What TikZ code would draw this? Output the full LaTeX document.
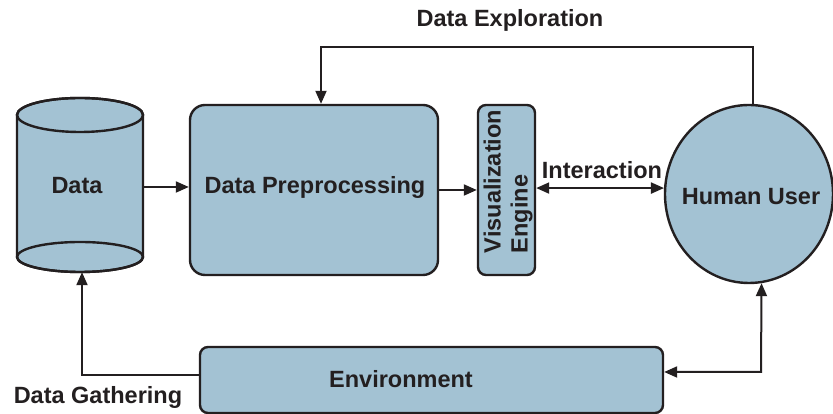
\documentclass[tikz,border=0pt]{standalone}
\usepackage{fontspec}
\setmainfont{Liberation Sans}
\usetikzlibrary{shapes.geometric,arrows.meta,calc}
\definecolor{boxfill}{HTML}{A3C2D3}
\definecolor{ink}{HTML}{231F20}
\begin{document}
\begin{tikzpicture}[x=1pt,y=1pt,
  box/.style={draw=ink,fill=boxfill,line width=2.4pt,inner sep=0pt},
  lbl/.style={text=ink,font=\fontsize{23.5}{26}\selectfont\bfseries,inner sep=0pt},
  conn/.style={draw=ink,line width=2pt},
  tip/.style={-{Triangle[length=13pt,width=11pt]}},
  tips/.style={{Triangle[length=13pt,width=11pt]}-{Triangle[length=13pt,width=11pt]}}]
\useasboundingbox (0,0) rectangle (833,414);
\fill[white] (0,0) rectangle (833,414);
% cylinder (Data)
\filldraw[draw=ink,fill=boxfill,line width=2.4pt]
  (17,299) -- (17,157) arc[start angle=180,end angle=360,x radius=63,y radius=15]
  -- (143,299) arc[start angle=0,end angle=180,x radius=63,y radius=17] -- cycle;
\draw[draw=ink,line width=2.4pt] (80,299) ellipse[x radius=63,y radius=17];
\draw[draw=ink,line width=2.4pt] (80,157) ellipse[x radius=63,y radius=15];
\node[minimum width=126pt,minimum height=174pt,inner sep=0pt] (data) at (80,229) {};
\node[lbl] (datalbl) at (77,228) {Data};
% boxes
\node[box,rounded corners=15pt,minimum width=248pt,minimum height=170pt] (prep) at (314,224) {};
\node[lbl] (preplbl) at (315,227) {Data Preprocessing};
\node[box,rounded corners=8pt,minimum width=57pt,minimum height=170pt] (vis) at (506.5,224) {};
\node[lbl,rotate=90,align=left,font=\fontsize{23.5}{27}\selectfont\bfseries] (vislbl) at (508,232.5) {Visualization\\Engine};
\node[box,ellipse,minimum width=168pt,minimum height=178pt] (user) at (749,220) {};
\node[lbl] (userlbl) at (751,217) {Human User};
\node[box,rounded corners=8pt,minimum width=463pt,minimum height=66pt] (env) at (431.5,34) {};
\node[lbl] (envlbl) at (401,35) {Environment};
% labels
\node[lbl] (explbl) at (510,394) {Data Exploration};
\node[lbl] (intlbl) at (602,244) {Interaction};
\node[lbl] (gathlbl) at (98,17) {Data Gathering};
% connectors
\coordinate (c1) at (143,227);
\draw[conn,tip] (data.east |- c1) -- (prep.west |- c1);
\draw[conn,tip] (prep.east) -- (vis.west);
\draw[conn,tips] (vis.east |- user.176) -- (user.176);
\coordinate (topL) at (321,367);
\coordinate (topR) at (753,367);
\draw[conn,tip] (topR |- user.north) -- (topR) -- (topL) -- (topL |- prep.north);
\coordinate (botR) at (761,42);
\draw[conn,tips] (env.east |- botR) -- (botR) -- (user.-82);
\coordinate (botL) at (82,39);
\draw[conn,tip] (env.west |- botL) -- (botL) -- (botL |- data.south);
\end{tikzpicture}
\end{document}
